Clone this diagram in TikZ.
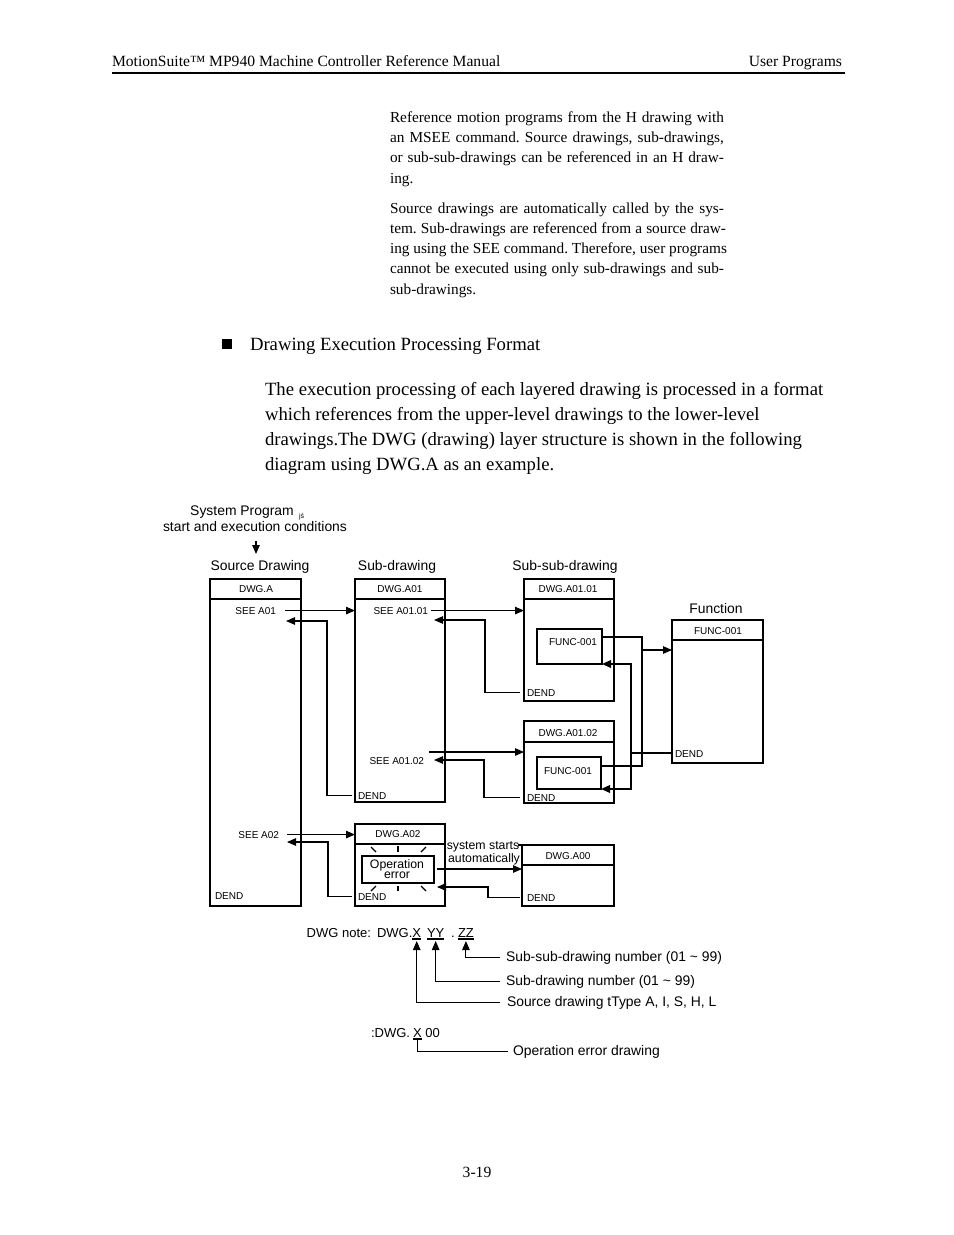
\documentclass[tikz,border=0pt]{standalone}
\usepackage{fontspec}
\setmainfont{Liberation Serif}
\newfontfamily\arial{Liberation Sans}
\usetikzlibrary{arrows.meta,calc}
\frenchspacing
\begin{document}
\begin{tikzpicture}[x=1bp,y=-1bp,
 px/.style={inner sep=0pt, outer sep=0pt},
 serifA/.style={px, font=\fontsize{15.6bp}{20bp}\selectfont},
 serifP/.style={px, font=\fontsize{15.3bp}{20bp}\selectfont},
 serifB/.style={px, font=\fontsize{18.7bp}{25bp}\selectfont},
 lab10/.style={px, font=\arial\fontsize{10bp}{12bp}\selectfont},
 lab14/.style={px, font=\arial\fontsize{13.9bp}{16bp}\selectfont},
 lab13/.style={px, font=\arial\fontsize{13bp}{15bp}\selectfont},
 lab12/.style={px, font=\arial\fontsize{12.3bp}{13bp}\selectfont},
 dbox/.style={draw, line width=1.1bp, px, anchor=north west},
 conn/.style={line width=1.1bp},
 arr/.style={conn, -{Triangle[length=9bp,width=7.5bp]}},
 thickarr/.style={line width=2bp, -{Triangle[length=9bp,width=7.5bp]}},
]
\useasboundingbox (0,0) rectangle (954,1235);
\fill[white] (0,0) rectangle (954,1235);

% ---------- header ----------
\node[serifA, anchor=base west] (hdrL) at (112,66) {MotionSuite™ MP940 Machine Controller Reference Manual};
\node[serifA, anchor=base east] (hdrR) at (842,66) {User Programs};
\coordinate (ruleL) at (112,73);
\coordinate (ruleR) at (845,73);
\draw[line width=1.3bp] (ruleL) -- (ruleR);

% ---------- paragraphs ----------
\node[serifP, anchor=base west] (p1a) at (390,122) {\makebox[334bp][s]{Reference motion programs from the H drawing with}};
\node[serifP, anchor=base west] (p1b) at (390,142) {\makebox[334bp][s]{an MSEE command. Source drawings, sub-drawings,}};
\node[serifP, anchor=base west] (p1c) at (390,162) {\makebox[334bp][s]{or sub-sub-drawings can be referenced in an H draw-}};
\node[serifP, anchor=base west] (p1d) at (390,183) {ing.};
\node[serifP, anchor=base west] (p2a) at (390,213) {\makebox[334bp][s]{Source drawings are automatically called by the sys-}};
\node[serifP, anchor=base west] (p2b) at (390,233) {\makebox[336bp][s]{tem. Sub-drawings are referenced from a source draw-}};
\node[serifP, anchor=base west] (p2c) at (390,253) {ing using the SEE command. Therefore, user programs};
\node[serifP, anchor=base west] (p2d) at (390,273) {\makebox[334bp][s]{cannot be executed using only sub-drawings and sub-}};
\node[serifP, anchor=base west] (p2e) at (390,294) {sub-drawings.};

\node[fill, minimum size=10bp, px] (bullet) at (227,344) {};
\node[serifB, anchor=base west] (sect) at (250,350) {Drawing Execution Processing Format};
\node[serifB, anchor=base west] (b1) at (265,395) {The execution processing of each layered drawing is processed in a format};
\node[serifB, anchor=base west] (b2) at (265,420) {which references from the upper-level drawings to the lower-level};
\node[serifB, anchor=base west] (b3) at (265,445) {drawings.The DWG (drawing) layer structure is shown in the following};
\node[serifB, anchor=base west] (b4) at (265,470) {diagram using DWG.A as an example.};

% ---------- diagram labels ----------
\node[lab14, anchor=base] (sysprog) at (242,515) {System Program};
\node[px, anchor=base west, font=\arial\fontsize{7bp}{8bp}\selectfont] (sysmark) at (299,518) {jś};
\node[lab14, anchor=base] (cond) at (255,531) {start and execution conditions};
\node[lab14, anchor=base] (srcLbl) at (260,570) {Source Drawing};
\node[lab14, anchor=base] (subLbl) at (397,570) {Sub-drawing};
\node[lab14, anchor=base] (ssubLbl) at (565,570) {Sub-sub-drawing};
\node[lab14, anchor=base] (fnLbl) at (716,613) {Function};
\coordinate (sysArrowTop) at (256,541);
\coordinate (sysArrowTip) at (256,554);
\draw[arr] (sysArrowTop) -- (sysArrowTip);

% ---------- boxes ----------
\node[dbox, minimum width=91bp, minimum height=327bp] (A) at (210,579) {};
\node[dbox, minimum width=90bp, minimum height=223bp] (A01) at (355,579) {};
\node[dbox, minimum width=90bp, minimum height=122bp] (A0101) at (524,579) {};
\node[dbox, minimum width=65bp, minimum height=35bp] (F1) at (537,629) {};
\node[dbox, minimum width=90bp, minimum height=82bp] (A0102) at (524,721) {};
\node[dbox, minimum width=64bp, minimum height=32bp] (F2) at (537,757) {};
\node[dbox, minimum width=91bp, minimum height=143bp] (Fn) at (672,620) {};
\node[dbox, minimum width=90bp, minimum height=82bp] (A02) at (355,824) {};
\node[dbox, minimum width=72bp, minimum height=27bp] (Op) at (362,856) {};
\node[dbox, minimum width=92bp, minimum height=61bp] (A00) at (522,845) {};

\foreach \b/\d in {A/20,A01/20,A0101/20,A0102/21,Fn/20,A02/20,A00/20}{
  \draw[conn] ([yshift=-\d bp]\b.north west) -- ([yshift=-\d bp]\b.north east);
}
\draw[conn] ($(A00.north west)+(-4,0)$) -- (A00.north west);

% ---------- box texts ----------
\node[lab10, anchor=base] (tA) at (256,592) {DWG.A};
\node[lab10, anchor=base] (tA01) at (400,592) {DWG.A01};
\node[lab10, anchor=base] (tA0101) at (568,592) {DWG.A01.01};
\node[lab10, anchor=base] (tF1) at (573,645) {FUNC-001};
\node[lab10, anchor=base] (tA0102) at (568,736) {DWG.A01.02};
\node[lab10, anchor=base] (tF2) at (568,774) {FUNC-001};
\node[lab10, anchor=base] (tFn) at (718,634) {FUNC-001};
\node[lab10, anchor=base] (tA02) at (398,837) {DWG.A02};
\node[lab10, anchor=base] (tA00) at (568,859) {DWG.A00};

\node[lab10, anchor=base east] (seeA01) at (276,614) {SEE A01};
\node[lab10, anchor=base east] (seeA0101) at (428,614) {SEE A01.01};
\node[lab10, anchor=base east] (seeA0102) at (424,764) {SEE A01.02};
\node[lab10, anchor=base east] (seeA02) at (279,838) {SEE A02};
\node[lab10, anchor=base west] (dendA) at (215,899) {DEND};
\node[lab10, anchor=base west] (dendA01) at (358,799) {DEND};
\node[lab10, anchor=base west] (dendA0101) at (527,696) {DEND};
\node[lab10, anchor=base west] (dendA0102) at (527,801) {DEND};
\node[lab10, anchor=base west] (dendFn) at (675,757) {DEND};
\node[lab10, anchor=base west] (dendA02) at (358,900) {DEND};
\node[lab10, anchor=base west] (dendA00) at (527,901) {DEND};

\node[lab12, anchor=base] (op1) at (397,868) {Operation};
\node[lab12, anchor=base] (op2) at (397,878) {error};
\node[lab12, anchor=base] (sys1) at (483,849) {system starts};
\node[lab12, anchor=base] (sys2) at (484,862) {automatically};

% rays around operation error
\draw[conn] (371,847) -- (376,852);
\draw[conn] (398,846) -- (398,852);
\draw[conn] (426,847) -- (421,852);
\draw[conn] (376,886) -- (371,891);
\draw[conn] (398,886) -- (398,891);
\draw[conn] (421,886) -- (426,891);

% ---------- connectors ----------
\draw[arr] ($(seeA01.east)+(9,0)$) -- (seeA01.east -| A01.west);
\coordinate (rA) at (327,621);
\coordinate (rAtip) at (286,621);
\draw[arr] ($(dendA01.west)+(-6,0)$) -| (rA) -- (rAtip);

\draw[arr] ($(seeA0101.east)+(3,0)$) -- (seeA0101.east -| A0101.west);
\coordinate (rB) at (485,620);
\coordinate (rBtip) at (434,620);
\draw[arr] ($(dendA0101.west)+(-7,0)$) -| (rB) -- (rBtip);

\coordinate (sA0102) at (429,752);
\draw[arr] (sA0102) -- (sA0102 -| A0102.west);
\coordinate (rC) at (484,760);
\coordinate (rCtip) at (434,760);
\draw[arr] ($(dendA0102.west)+(-7,0)$) -| (rC) -- (rCtip);

\coordinate (fj) at (642,650);
\draw[arr] ($(F1.north east)+(0,8)$) -| (fj) -- (fj -| Fn.west);
\draw[conn] ($(F2.north east)+(0,9)$) -| (fj);
\coordinate (rt) at (631,753);
\draw[conn] (Fn.west |- rt) -- (rt);
\draw[thickarr] (rt) |- (F1.south east);
\draw[thickarr] (rt) |- (F2.south east);

\draw[arr] ($(seeA02.east)+(8,0)$) -- (seeA02.east -| A02.west);
\coordinate (rD) at (328,842);
\coordinate (rDtip) at (287,842);
\draw[arr] ($(dendA02.west)+(-6,0)$) -| (rD) -- (rDtip);

\coordinate (opOut) at (437,869);
\draw[arr] (opOut) -- (opOut -| A00.west);
\coordinate (rE) at (488,887);
\coordinate (rEtip) at (437,887);
\draw[arr] ($(dendA00.west)+(-7,0)$) -| (rE) -- (rEtip);

% ---------- note ----------
\node[lab13, anchor=base east] (noteLbl) at (371,937) {DWG note:};
\node[lab13, anchor=base west] (noteDWG) at (377,937) {DWG.};
\node[lab13, anchor=base west] (noteX) at (noteDWG.base east) {X};
\node[lab13, anchor=base west] (noteYY) at (427,937) {YY};
\node[lab13, anchor=base west] (noteDot) at (451,937) {.};
\node[lab13, anchor=base west] (noteZZ) at (458,937) {ZZ};
\foreach \n in {noteX,noteYY,noteZZ}{
  \draw[conn] ($(\n.base west)+(0,2)$) -- ($(\n.base east)+(0,2)$);
}
\node[lab14, anchor=base west] (ssdn) at (506,961) {Sub-sub-drawing number (01 \textasciitilde{} 99)};
\node[lab14, anchor=base west] (sdn) at (506,985) {Sub-drawing number (01 \textasciitilde{} 99)};
\node[lab14, anchor=base west] (stype) at (507,1006) {Source drawing tType A, I, S, H, L};
\draw[arr] ($(ssdn.west)+(-6,0)$) -| ($(noteZZ.base)+(0,4)$);
\draw[arr] ($(sdn.west)+(-6,0)$) -| ($(noteYY.base)+(0,4)$);
\draw[arr] ($(stype.west)+(-7,0)$) -| ($(noteX.base)+(0,4)$);

\node[lab13, anchor=base west] (eA) at (371,1037) {:DWG.};
\node[lab13, anchor=base west] (eX) at (413,1037) {X};
\node[lab13, anchor=base west] (e00) at (425.3,1037) {00};
\draw[conn] ($(eX.base west)+(0,2)$) -- ($(eX.base east)+(0,2)$);
\node[lab14, anchor=base west] (opdraw) at (513,1055) {Operation error drawing};
\draw[conn] ($(eX.base)+(0,3)$) |- ($(opdraw.west)+(-5,0)$);

% ---------- page number ----------
\node[serifA, anchor=base] (pgno) at (477,1177) {3-19};
\end{tikzpicture}
\end{document}
